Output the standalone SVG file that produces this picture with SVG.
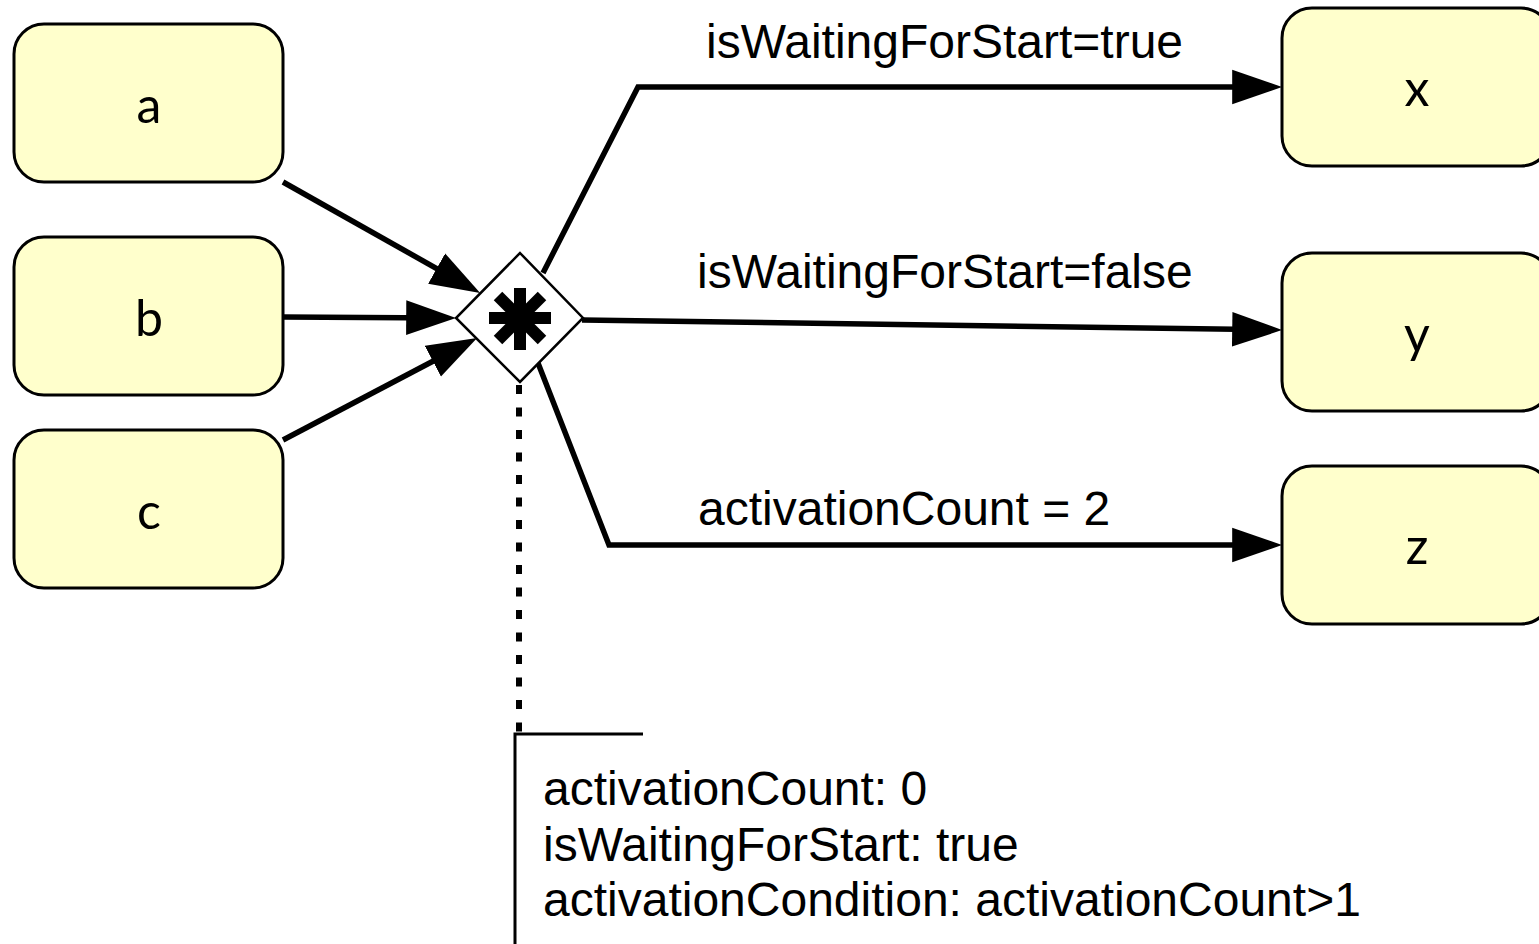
<svg xmlns="http://www.w3.org/2000/svg" width="1539" height="944" viewBox="0 0 1539 944">
<style>
.node rect{fill:#FFFFCC;stroke:#000;stroke-width:3}
.nl{font-family:Lato,"Open Sans",sans-serif;font-size:50px;fill:#000;text-anchor:middle}
.t{font-family:"Liberation Sans",Arial,sans-serif;font-size:48px;fill:#000}
.edge{fill:none;stroke:#000;stroke-width:5.5;marker-end:url(#arr)}
</style>
<defs>
<marker id="arr" markerUnits="userSpaceOnUse" markerWidth="50" markerHeight="36" refX="39" refY="17" orient="auto" viewBox="0 0 49 34">
<path d="M0,0 L49,17 L0,34 z" fill="#000"/>
</marker>
</defs>
<rect width="1539" height="944" fill="#fff"/>
<g id="connectors">
<path class="edge" d="M283,182 L471.3,288.1"/>
<path class="edge" d="M283,317 L446,317.9"/>
<path class="edge" d="M283,440 L468.1,342.7"/>
<path class="edge" d="M543,273 L638,87 L1272,87"/>
<path class="edge" d="M582,320 L1272,329.86"/>
<path class="edge" d="M538,363 L609,545 L1272,545"/>
<text class="t" x="706" y="58">isWaitingForStart=true</text>
<text class="t" x="697" y="288">isWaitingForStart=false</text>
<text class="t" x="698" y="525">activationCount = 2</text>
</g>
<g id="node-a" class="node"><rect x="14" y="24" width="269" height="158" rx="30"/><text class="nl" x="149" y="123">a</text></g>
<g id="node-b" class="node"><rect x="14" y="237" width="269" height="158" rx="30"/><text class="nl" x="149" y="336">b</text></g>
<g id="node-c" class="node"><rect x="14" y="430" width="269" height="158" rx="30"/><text class="nl" x="149" y="529">c</text></g>
<g id="node-x" class="node"><rect x="1282" y="8" width="269" height="158" rx="30"/><text class="nl" x="1417" y="106">x</text></g>
<g id="node-y" class="node"><rect x="1282" y="253" width="269" height="158" rx="30"/><text class="nl" x="1417" y="352">y</text></g>
<g id="node-z" class="node"><rect x="1282" y="466" width="269" height="158" rx="30"/><text class="nl" x="1417" y="564">z</text></g>
<g id="gateway">
<path d="M520,253 L583,318 L520,382 L456,318 z" fill="#fff" stroke="#000" stroke-width="2.5"/>
<g stroke="#000" stroke-width="12" stroke-linecap="butt">
<line x1="489" y1="318" x2="551" y2="318"/>
<line x1="520" y1="288" x2="520" y2="350"/>
<line x1="498" y1="296" x2="542" y2="340"/>
<line x1="542" y1="296" x2="498" y2="340"/>
</g>
</g>
<g id="annotation">
<line x1="519" y1="385" x2="519" y2="734" stroke="#000" stroke-width="6" stroke-dasharray="9 13.5"/>
<path d="M643,734 L515,734 L515,944" fill="none" stroke="#000" stroke-width="3"/>
<text class="t" x="543" y="805">activationCount: 0</text>
<text class="t" x="543" y="861">isWaitingForStart: true</text>
<text class="t" x="543" y="916">activationCondition: activationCount&gt;1</text>
</g>
</svg>
